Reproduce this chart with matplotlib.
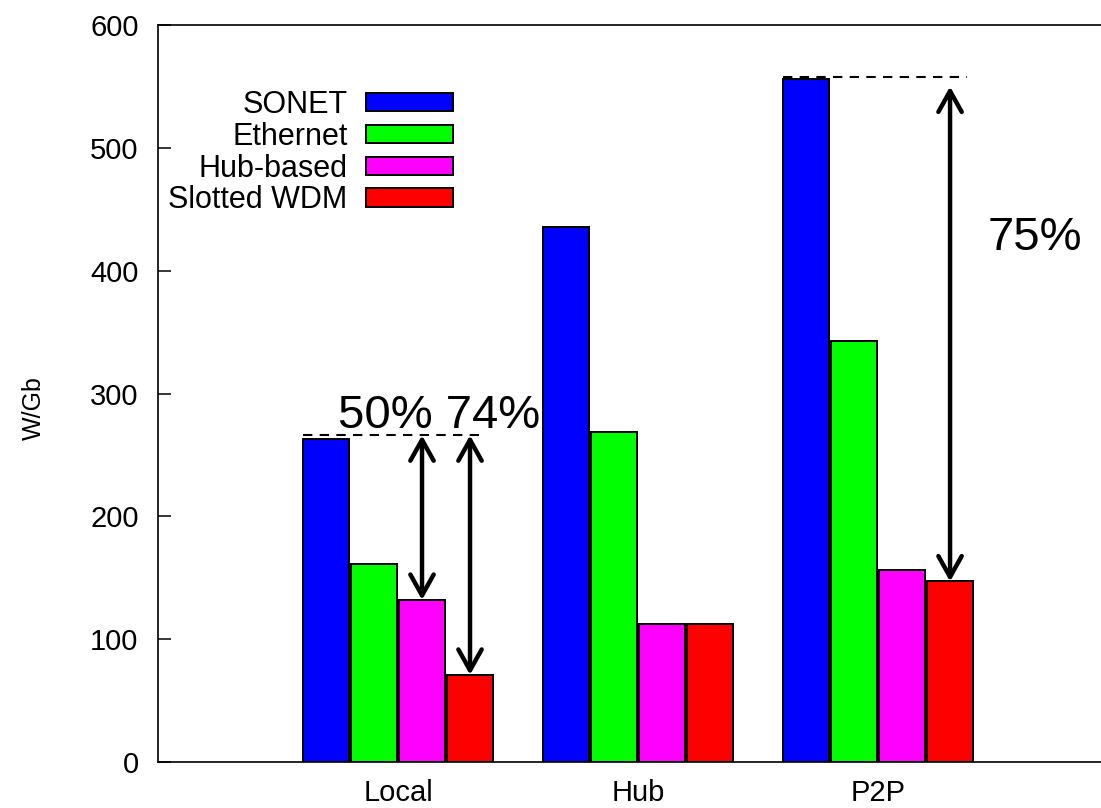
import numpy as np
import matplotlib
matplotlib.use("Agg")
import matplotlib.pyplot as plt

plt.rcParams['font.family'] = ['Liberation Sans', 'DejaVu Sans']

categories = ["Local", "Hub", "P2P"]
series = ["SONET", "Ethernet", "Hub-based", "Slotted WDM"]
colors = ["#0000ff", "#00ff00", "#ff00ff", "#ff0000"]

sonet = [263, 436, 556]
ethernet = [161, 269, 343]
hub_based = [132, 112, 156]
slotted_wdm = [71, 112, 147]
values = [sonet, ethernet, hub_based, slotted_wdm]

yticks = [0, 100, 200, 300, 400, 500, 600]

fig = plt.figure(figsize=(11.01, 8.08), dpi=100)
ax = fig.add_axes([0.1435, 0.0569, 0.872, 0.912])

x = np.arange(1, len(categories) + 1)
step = 0.2
width = 0.19
offsets = (np.arange(len(series)) - 1.5) * step

for i, (name, vals) in enumerate(zip(series, values)):
    ax.bar(x + offsets[i], vals, width, color=colors[i], edgecolor="black",
           linewidth=1.4, label=name, zorder=2)

ax.set_xlim(0, 4)
ax.set_ylim(0, 600)
ax.set_xticks(x)
ax.set_xticklabels(categories)
ax.set_yticks(yticks)
ax.tick_params(axis="x", length=0, pad=12, labelsize=21)
ax.tick_params(axis="y", direction="in", length=9.5, width=1.1, pad=14,
               labelsize=21, right=False)
for s in ax.spines.values():
    s.set_linewidth(1.2)
ax.set_ylabel("W/Gb", fontsize=18)
ax.yaxis.set_label_coords(-0.117, 0.48)

arrow_style = dict(arrowstyle="<->,head_length=0.75,head_width=0.42",
                   lw=3.2, color="black", mutation_scale=20,
                   shrinkA=0, shrinkB=0)

# savings annotations: Local group
top_local = sonet[0] + 3
for j in (2, 3):
    xa = x[0] + offsets[j]
    ax.annotate("", xy=(xa, values[j][0]), xytext=(xa, top_local),
                arrowprops=arrow_style, zorder=4)
ax.plot([x[0] + offsets[0] - width / 2, x[0] + offsets[3] + 0.05],
        [top_local, top_local], color="black", lw=1.5,
        linestyle=(0, (4.5, 3.5)), zorder=3)
ax.text(0.75, 272, "50% 74%", fontsize=34, ha="left", va="baseline")

# savings annotation: P2P group
top_p2p = sonet[2] + 2
xa = x[2] + offsets[3]
ax.annotate("", xy=(xa, slotted_wdm[2]), xytext=(xa, top_p2p - 8),
            arrowprops=arrow_style, zorder=4)
ax.plot([x[2] + offsets[0] - width / 2, xa + 0.07],
        [top_p2p, top_p2p], color="black", lw=1.5,
        linestyle=(0, (4.5, 3.5)), zorder=3)
ax.text(3.458, 417, "75%", fontsize=34, ha="left", va="baseline")

ax.legend(loc="upper right", bbox_to_anchor=(453 / 1101, 1 - 90 / 808),
          bbox_transform=fig.transFigure, frameon=False, markerfirst=False,
          fontsize=22, handlelength=2.85, handleheight=0.55,
          handletextpad=0.6, labelspacing=0.06, borderpad=0,
          borderaxespad=0)

fig.savefig("out.png", dpi=100)
